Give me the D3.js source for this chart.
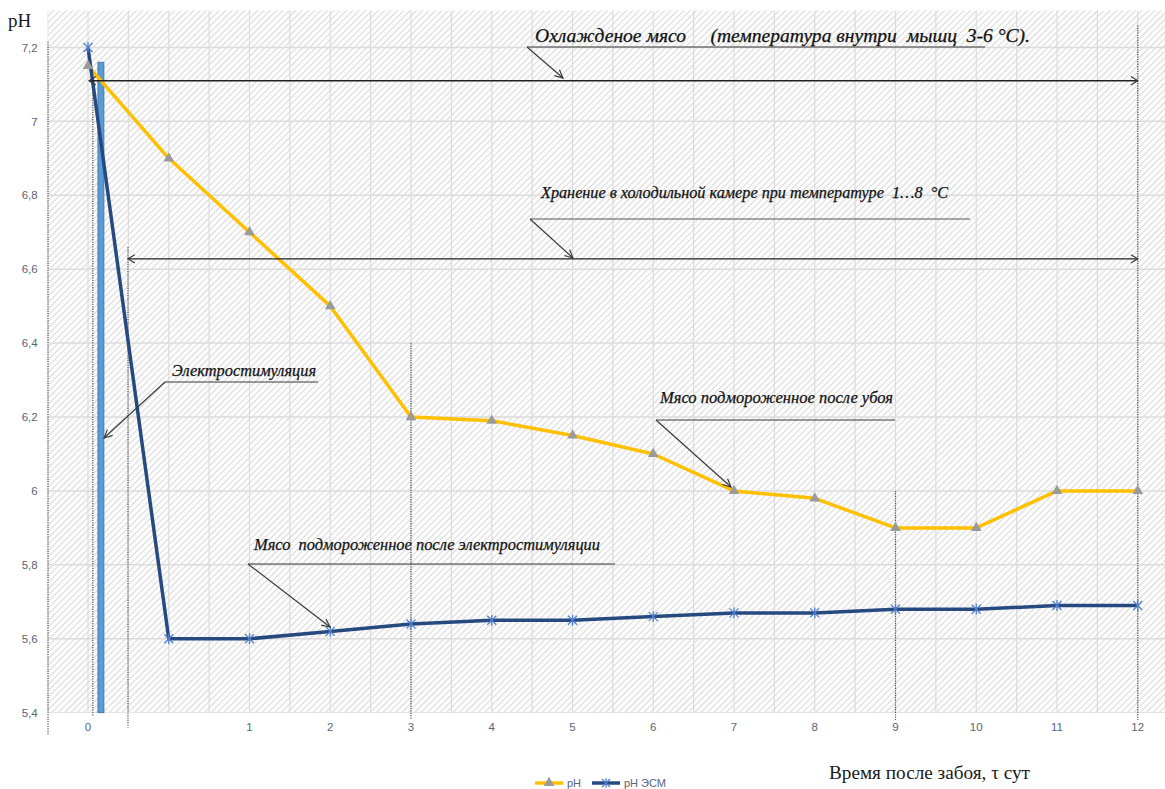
<!DOCTYPE html>
<html><head><meta charset="utf-8">
<script src="https://cdn.jsdelivr.net/npm/d3@7"></script>
<style>body{margin:0;background:#fff}svg{display:block}</style>
</head><body>
<script>
// ---- data ----
const categories = ["0", "", "1", "2", "3", "4", "5", "6", "7", "8", "9", "10", "11", "12"];
const phValues   = [7.15, 6.90, 6.70, 6.50, 6.20, 6.19, 6.15, 6.10, 6.00, 5.98, 5.90, 5.90, 6.00, 6.00];
const phEsmValues= [7.20, 5.60, 5.60, 5.62, 5.64, 5.65, 5.65, 5.66, 5.67, 5.67, 5.68, 5.68, 5.69, 5.69];
const yTicks     = [5.4, 5.6, 5.8, 6.0, 6.2, 6.4, 6.6, 6.8, 7.0, 7.2];
const yTickLabels= ["5,4", "5,6", "5,8", "6", "6,2", "6,4", "6,6", "6,8", "7", "7,2"];
const seriesNames= ["pH", "pH ЭСМ"];
const stimBar    = {pos: 0.16, value: 7.16};   // electrostimulation bar
const annotations = [
  {text: "Охлажденое мясо     (температура внутри  мышц  3-6 °С).", size: 18, spanFrom: 0, spanTo: 13, spanValue: 7.11},
  {text: "Хранение в холодильной камере при температуре  1…8  °С", size: 16, spanFrom: 0.495, spanTo: 13, spanValue: 6.628},
  {text: "Электростимуляция", size: 16},
  {text: "Мясо подмороженное после убоя", size: 16},
  {text: "Мясо  подмороженное после электростимуляции", size: 16}
];

// ---- setup ----
const W = 1165, H = 789;
const svg = d3.select("body").append("svg").attr("width", W).attr("height", H)
  .style("font-family", "Liberation Sans, Arial, sans-serif");

const step = 80.75;
const x = d3.scaleBand().domain(d3.range(categories.length))
  .range([88 - step/2, 88 - step/2 + step*categories.length]);
const xc = i => x(0) + step/2 + i*step;        // fractional category position
const y = d3.scaleLinear().domain([5.4, 7.3]).range([712.7, 10.5]);

const plotL = x.range()[0], plotR = x.range()[1], plotT = y(7.3), plotB = y(5.4);

// hatch pattern
const defs = svg.append("defs");
const pat = defs.append("pattern").attr("id", "hatch").attr("patternUnits", "userSpaceOnUse")
  .attr("width", 4.5).attr("height", 4.5).attr("patternTransform", "rotate(45)");
pat.append("rect").attr("width", 4.5).attr("height", 4.5).attr("fill", "#fcfcfc");
pat.append("line").attr("x1", 0).attr("y1", 0).attr("x2", 0).attr("y2", 4.5)
  .attr("stroke", "#c9c9c9").attr("stroke-width", 1.3);

const clip = defs.append("clipPath").attr("id", "plotclip");
clip.append("rect").attr("x", plotL).attr("y", plotT).attr("width", plotR - plotL).attr("height", plotB - plotT);

svg.append("rect").attr("x", plotL).attr("y", plotT).attr("width", plotR - plotL)
  .attr("height", plotB - plotT).attr("fill", "url(#hatch)");

// gridlines
const grid = svg.append("g").attr("clip-path", "url(#plotclip)");
const vPos = d3.range(-0.5, categories.length, 0.5);
grid.selectAll("line.v").data(vPos).join("line")
  .attr("x1", d => xc(d)).attr("x2", d => xc(d)).attr("y1", plotT).attr("y2", plotB)
  .attr("stroke", "#dcdcdc").attr("stroke-width", 1.2);
grid.selectAll("line.h").data(yTicks).join("line")
  .attr("x1", plotL).attr("x2", plotR).attr("y1", d => y(d)).attr("y2", d => y(d))
  .attr("stroke", "#dcdcdc").attr("stroke-width", 1.5);

// y-axis
const yAxis = d3.axisLeft(y).tickValues(yTicks).tickSize(0).tickPadding(10)
  .tickFormat((d, i) => yTickLabels[i]);
const gy = svg.append("g").attr("transform", `translate(${plotL},0)`).call(yAxis);
gy.select(".domain").remove();
gy.selectAll("text").attr("fill", "#5a6478").attr("font-size", 11.5).attr("font-family", "Liberation Sans, Arial, sans-serif");

// x-axis
const xAxis = d3.axisBottom(x).tickSize(0).tickPadding(10).tickFormat(i => categories[i]);
const gx = svg.append("g").attr("transform", `translate(0,${plotB})`).call(xAxis);
gx.select(".domain").remove();
gx.selectAll("text").attr("fill", "#5a6478").attr("font-size", 11.5).attr("font-family", "Liberation Sans, Arial, sans-serif");

// dotted vertical lines
const dotted = [
  {p: -0.495, v1: 7.215, v2: 5.34},
  {p: 0.06, v1: 7.11, v2: 5.39},
  {p: 0.495, v1: 6.66, v2: 5.36},
  {p: 4, v1: 6.40, v2: 5.38},
  {p: 10, v1: 6.00, v2: 5.38},
  {p: 13, v1: 7.26, v2: 5.38}
];
svg.selectAll("line.dot").data(dotted).join("line")
  .attr("x1", d => xc(d.p)).attr("x2", d => xc(d.p))
  .attr("y1", d => y(d.v1)).attr("y2", d => y(d.v2))
  .attr("stroke", "#555").attr("stroke-width", 1.2).attr("stroke-dasharray", "1.2,1.2");

// stimulation bar
svg.append("rect").attr("x", xc(stimBar.pos) - 3).attr("y", y(stimBar.value))
  .attr("width", 6).attr("height", y(5.4) - y(stimBar.value))
  .attr("fill", "#5b9bd5").attr("stroke", "#3f6fa3").attr("stroke-width", 0.8);

// series
const line = d3.line().x((d, i) => xc(i)).y(d => y(d));
svg.append("path").datum(phValues).attr("d", line).attr("fill", "none")
  .attr("stroke", "#ffc000").attr("stroke-width", 3.5).attr("stroke-linejoin", "round");
svg.append("path").datum(phEsmValues).attr("d", line).attr("fill", "none")
  .attr("stroke", "#264a80").attr("stroke-width", 3.5).attr("stroke-linejoin", "round");

const tri = d3.symbol().type(d3.symbolTriangle).size(50);
svg.selectAll("path.tri").data(phValues).join("path")
  .attr("transform", (d, i) => `translate(${xc(i)},${y(d)})`).attr("d", tri)
  .attr("fill", "#9a9a9a");

function star(g, cx, cy, r) {
  const s = g.append("g").attr("transform", `translate(${cx},${cy})`)
    .attr("stroke", "#4f7fcf").attr("stroke-width", 1.3);
  s.append("line").attr("x1", -r).attr("y1", -r).attr("x2", r).attr("y2", r);
  s.append("line").attr("x1", -r).attr("y1", r).attr("x2", r).attr("y2", -r);
  s.append("line").attr("x1", 0).attr("y1", -r*1.2).attr("x2", 0).attr("y2", r*1.2);
}
phEsmValues.forEach((d, i) => star(svg, xc(i), y(d), 4.5));

// ---- annotations ----
const ann = svg.append("g").attr("stroke", "#3a3a3a").attr("fill", "none").attr("stroke-width", 1.2);
function arrowHead(g, x1, y1, x2, y2, len = 9, ang = 0.45) {
  const a = Math.atan2(y2 - y1, x2 - x1);
  const p = d3.path();
  p.moveTo(x2 - len*Math.cos(a - ang), y2 - len*Math.sin(a - ang));
  p.lineTo(x2, y2);
  p.lineTo(x2 - len*Math.cos(a + ang), y2 - len*Math.sin(a + ang));
  g.append("path").attr("d", p.toString());
}
function arrow(g, x1, y1, x2, y2) {
  g.append("line").attr("x1", x1).attr("y1", y1).attr("x2", x2).attr("y2", y2);
  arrowHead(g, x1, y1, x2, y2);
}
function dblArrow(g, x1, x2, yy) {
  g.append("line").attr("x1", x1).attr("y1", yy).attr("x2", x2).attr("y2", yy).attr("stroke", "#222").attr("stroke-width", 1.4);
  arrowHead(g, x2, yy, x1, yy, 8, 0.55);
  arrowHead(g, x1, yy, x2, yy, 8, 0.55);
}
const tg = svg.append("g").attr("font-family", "Liberation Serif, Times New Roman, serif")
  .attr("font-style", "italic").attr("fill", "#111");
function label(a, tx, ty, width) {
  tg.append("text").attr("x", tx).attr("y", ty).attr("font-size", a.size)
    .attr("xml:space", "preserve").style("white-space", "pre")
    .attr("stroke", "#111").attr("stroke-width", 0.25)
    .attr("textLength", width).attr("lengthAdjust", "spacingAndGlyphs").text(a.text);
}

// 1: chilled meat
dblArrow(ann, xc(annotations[0].spanFrom) + 1, xc(annotations[0].spanTo), y(annotations[0].spanValue));
ann.append("line").attr("x1", 527).attr("y1", 47).attr("x2", 985).attr("y2", 47);
arrow(ann, 527, 47, 563, 78);
label(annotations[0], 535, 42, 495);

// 2: storage
dblArrow(ann, xc(annotations[1].spanFrom), xc(annotations[1].spanTo), y(annotations[1].spanValue));
ann.append("line").attr("x1", 530).attr("y1", 219).attr("x2", 970).attr("y2", 219).attr("stroke", "#555");
arrow(ann, 530, 219, 573, 258);
label(annotations[1], 541, 198, 407);

// 3: electrostimulation
ann.append("line").attr("x1", 165).attr("y1", 382).attr("x2", 318).attr("y2", 382);
arrow(ann, 165, 382, 104, 438);
label(annotations[2], 172, 376, 144);

// 4: frozen after slaughter
ann.append("line").attr("x1", 656).attr("y1", 420).attr("x2", 895).attr("y2", 420);
arrow(ann, 656, 420, 731, 487);
label(annotations[3], 660, 403, 233);

// 5: frozen after electrostimulation
ann.append("line").attr("x1", 248).attr("y1", 564).attr("x2", 615).attr("y2", 564);
arrow(ann, 248, 564, 330, 627);
label(annotations[4], 254, 550, 346);

// axis titles
svg.append("text").attr("x", 8).attr("y", 27).attr("font-family", "Liberation Serif, Times New Roman, serif")
  .attr("font-size", 19).attr("fill", "#1a1a1a").text("pH");
svg.append("text").attr("x", 829).attr("y", 779).attr("font-family", "Liberation Serif, Times New Roman, serif")
  .attr("font-size", 18).attr("fill", "#1a1a1a").attr("textLength", 201).attr("lengthAdjust", "spacingAndGlyphs")
  .text("Время после забоя, τ сут");

// legend
const lg = svg.append("g").attr("transform", "translate(535,783)");
lg.append("line").attr("x1", 0).attr("x2", 28).attr("stroke", "#ffc000").attr("stroke-width", 3.5);
lg.append("path").attr("transform", "translate(14,0)").attr("d", tri).attr("fill", "#9a9a9a");
lg.append("text").attr("x", 32).attr("y", 4).attr("font-size", 11).attr("fill", "#5a6478").text(seriesNames[0]);
lg.append("line").attr("x1", 57).attr("x2", 85).attr("stroke", "#264a80").attr("stroke-width", 3.5);
star(lg, 71, 0, 4);
lg.append("text").attr("x", 89).attr("y", 4).attr("font-size", 11).attr("fill", "#5a6478").text(seriesNames[1]);
</script>
</body></html>
